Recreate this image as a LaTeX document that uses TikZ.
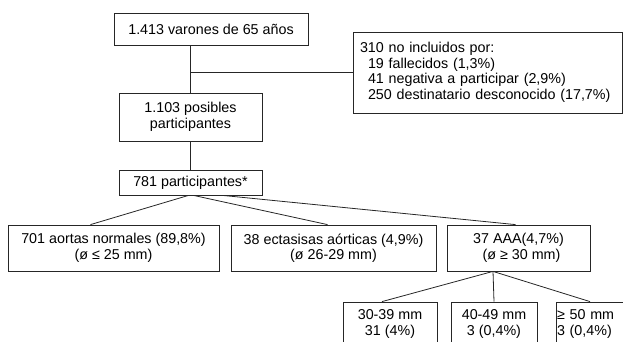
\documentclass[tikz,border=0pt]{standalone}
\usepackage{fontspec}
\setmainfont{Liberation Sans}
\usetikzlibrary{positioning}

\begin{document}
\begin{tikzpicture}[x=1pt,y=-1pt,
  caja/.style={draw=black!85,line width=0.8pt,rectangle,inner sep=0pt,align=center,
    font=\fontsize{14.3}{15.5}\selectfont},
  linea/.style={draw=black!85,line width=0.8pt}]

  \useasboundingbox (0,0) rectangle (623,342);
  \clip (0,0) rectangle (623,342);

  \node[caja,minimum width=194,minimum height=32](varones) at (211,29) {1.413 varones de 65 años};
  \node[caja,minimum width=269,minimum height=81,align=left,text width=255](excl) at (487.5,72.5)
    {310 no incluidos por:\\
     \hspace*{8pt}19 fallecidos (1,3\%)\\
     \hspace*{8pt}41 negativa a participar (2,9\%)\\
     \hspace*{8pt}250 destinatario desconocido (17,7\%)};
  \node[caja,minimum width=143,minimum height=48](posibles) at (190.5,117) {1.103 posibles\\participantes};
  \node[caja,minimum width=143,minimum height=25](p781) at (190.5,182.5) {781 participantes*};

  \node[caja,minimum width=211,minimum height=46](normales) at (113.5,248) {701 aortas normales (89,8\%)\\(ø ≤ 25 mm)};
  \node[caja,minimum width=205,minimum height=46](ectasias) at (333.5,248) {38 ectasisas aórticas (4,9\%)\\(ø 26-29 mm)};
  \node[caja,minimum width=143,minimum height=46](aaa) at (518.5,248) {37 AAA(4,7\%)\\\hspace*{6pt}(ø ≥ 30 mm)};

  \node[caja,minimum width=94,minimum height=44](m3039) at (390,324) {30-39 mm\\31 (4\%)};
  \node[caja,minimum width=86,minimum height=44](m4049) at (494,324) {40-49 mm\\3 (0,4\%)};
  \node[caja,minimum width=84,minimum height=44,align=left,text width=82](m50) at (598,324) {≥ 50 mm\\3 (0,4\%)};

  \draw[linea] (varones.south -| posibles.north) -- (posibles.north);
  \draw[linea] (posibles.north |- excl.west) -- (excl.west);
  \draw[linea] (posibles.south) -- (p781.north);

  \draw[linea] ([xshift=-2]p781.south) -- ([xshift=-23]normales.north);
  \draw[linea] ([xshift=3]p781.south) -- ([xshift=-6]ectasias.north);
  \draw[linea] ([xshift=32]p781.south) -- ([xshift=-3]aaa.north);

  \draw[linea] ([xshift=-25.5]aaa.south) -- ([xshift=-8]m3039.north);
  \draw[linea] ([xshift=-25.5]aaa.south) -- (m4049.north);
  \draw[linea] ([xshift=-25.5]aaa.south) -- ([xshift=-8]m50.north);

\end{tikzpicture}
\end{document}
